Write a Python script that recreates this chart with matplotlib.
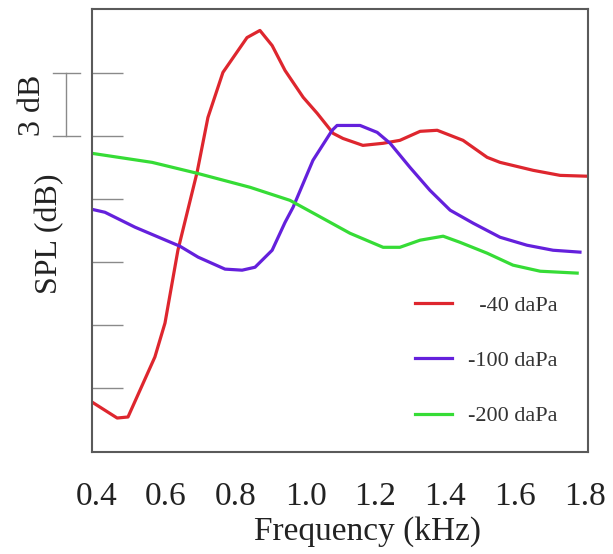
import numpy as np
import matplotlib
matplotlib.use("Agg")
import matplotlib.pyplot as plt
import matplotlib.transforms as mtransforms

plt.rcParams['font.family'] = ['Liberation Serif', 'DejaVu Serif']

# SPL curves vs frequency (kHz); y in dB relative to the lowest tick
freq_40 = [0.388, 0.460, 0.491, 0.568, 0.597, 0.634, 0.689, 0.720, 0.763, 0.832,
           0.869, 0.904, 0.941, 0.993, 1.033, 1.079, 1.107, 1.164, 1.222, 1.270,
           1.328, 1.377, 1.451, 1.520, 1.557, 1.652, 1.729, 1.806]
spl_40 = [-0.67, -1.43, -1.38, 1.48, 3.10, 6.57, 10.29, 12.90, 15.05, 16.71,
          17.05, 16.33, 15.14, 13.86, 13.10, 12.14, 11.90, 11.57, 11.67, 11.81,
          12.24, 12.29, 11.81, 11.00, 10.76, 10.38, 10.14, 10.10]

freq_100 = [0.388, 0.425, 0.511, 0.640, 0.692, 0.769, 0.818, 0.855, 0.904, 0.941,
            0.964, 1.021, 1.076, 1.090, 1.156, 1.205, 1.242, 1.299, 1.356, 1.414,
            1.480, 1.557, 1.634, 1.709, 1.786]
spl_100 = [8.52, 8.38, 7.67, 6.76, 6.24, 5.67, 5.62, 5.76, 6.57, 7.90,
           8.62, 10.86, 12.29, 12.52, 12.52, 12.19, 11.67, 10.52, 9.43, 8.48,
           7.86, 7.19, 6.81, 6.57, 6.48]

freq_200 = [0.388, 0.560, 0.689, 0.798, 0.841, 0.955, 1.033, 1.127, 1.222, 1.270,
            1.328, 1.394, 1.442, 1.520, 1.594, 1.672, 1.778]
spl_200 = [11.19, 10.76, 10.24, 9.76, 9.57, 8.95, 8.24, 7.38, 6.71, 6.71,
           7.05, 7.24, 6.95, 6.43, 5.86, 5.57, 5.48]

labels = ['  -40 daPa', '-100 daPa', '-200 daPa']
colors = ['#de262e', '#6420dc', '#36dc36']

xtick_vals = [0.4, 0.6, 0.8, 1.0, 1.2, 1.4, 1.6, 1.8]
ytick_vals = [0, 3, 6, 9, 12, 15]

fig = plt.figure(figsize=(6.13, 5.54), dpi=100)
ax = fig.add_axes([0.1496, 0.1841, 0.8096, 0.7988])

for f, s, lab, c in zip([freq_40, freq_100, freq_200], [spl_40, spl_100, spl_200], labels, colors):
    ax.plot(f, s, color=c, lw=2.3, label=lab, solid_joinstyle='round')

ax.set_xlim(0.387, 1.809)
ax.set_ylim(-3.05, 18.05)

# labels on every 0.2, tick marks only on the inner ones
ax.set_xticks(xtick_vals)
ax.set_xticklabels([f"{v:.1f}" for v in xtick_vals])
ax.tick_params(axis='x', length=0, pad=21, labelsize=24, labelcolor='#222222')
ax.set_xticks(xtick_vals[1:-1], minor=True)
ax.tick_params(axis='x', which='minor', direction='in', length=19, width=1, color='#8a8a8a')

ax.set_yticks(ytick_vals)
ax.set_yticklabels([])
ax.tick_params(axis='y', direction='in', length=22, width=1, color='#8a8a8a')

for sp in ax.spines.values():
    sp.set_color('#5a5a5a')
    sp.set_linewidth(1.5)

ax.text(0.555, -0.18, 'Frequency (kHz)', transform=ax.transAxes, ha='center', va='center',
        fontsize=24, color='#222222')
ax.text(-0.084, 0.494, 'SPL (dB)', transform=ax.transAxes, ha='center', va='center',
        rotation=90, fontsize=23, color='#222222')

# 3 dB scale bracket
trans = mtransforms.blended_transform_factory(ax.transAxes, ax.transData)
ax.plot([-0.052, -0.052], [12, 15], color='#8a8a8a', lw=1, transform=trans, clip_on=False)
ax.plot([-0.078, -0.023], [12, 12], color='#8a8a8a', lw=1, transform=trans, clip_on=False)
ax.plot([-0.078, -0.023], [15, 15], color='#8a8a8a', lw=1, transform=trans, clip_on=False)
ax.text(-0.119, 13.5, '3 dB', transform=trans, ha='center', va='center', rotation=90,
        fontsize=23, color='#222222')

ax.legend(loc='upper left', bbox_to_anchor=(0.651, 0.354), frameon=False, fontsize=16,
          borderpad=0, borderaxespad=0, labelspacing=1.56, handlelength=1.67,
          handletextpad=0.72, labelcolor='#333333')

fig.savefig('out.png', dpi=100)
